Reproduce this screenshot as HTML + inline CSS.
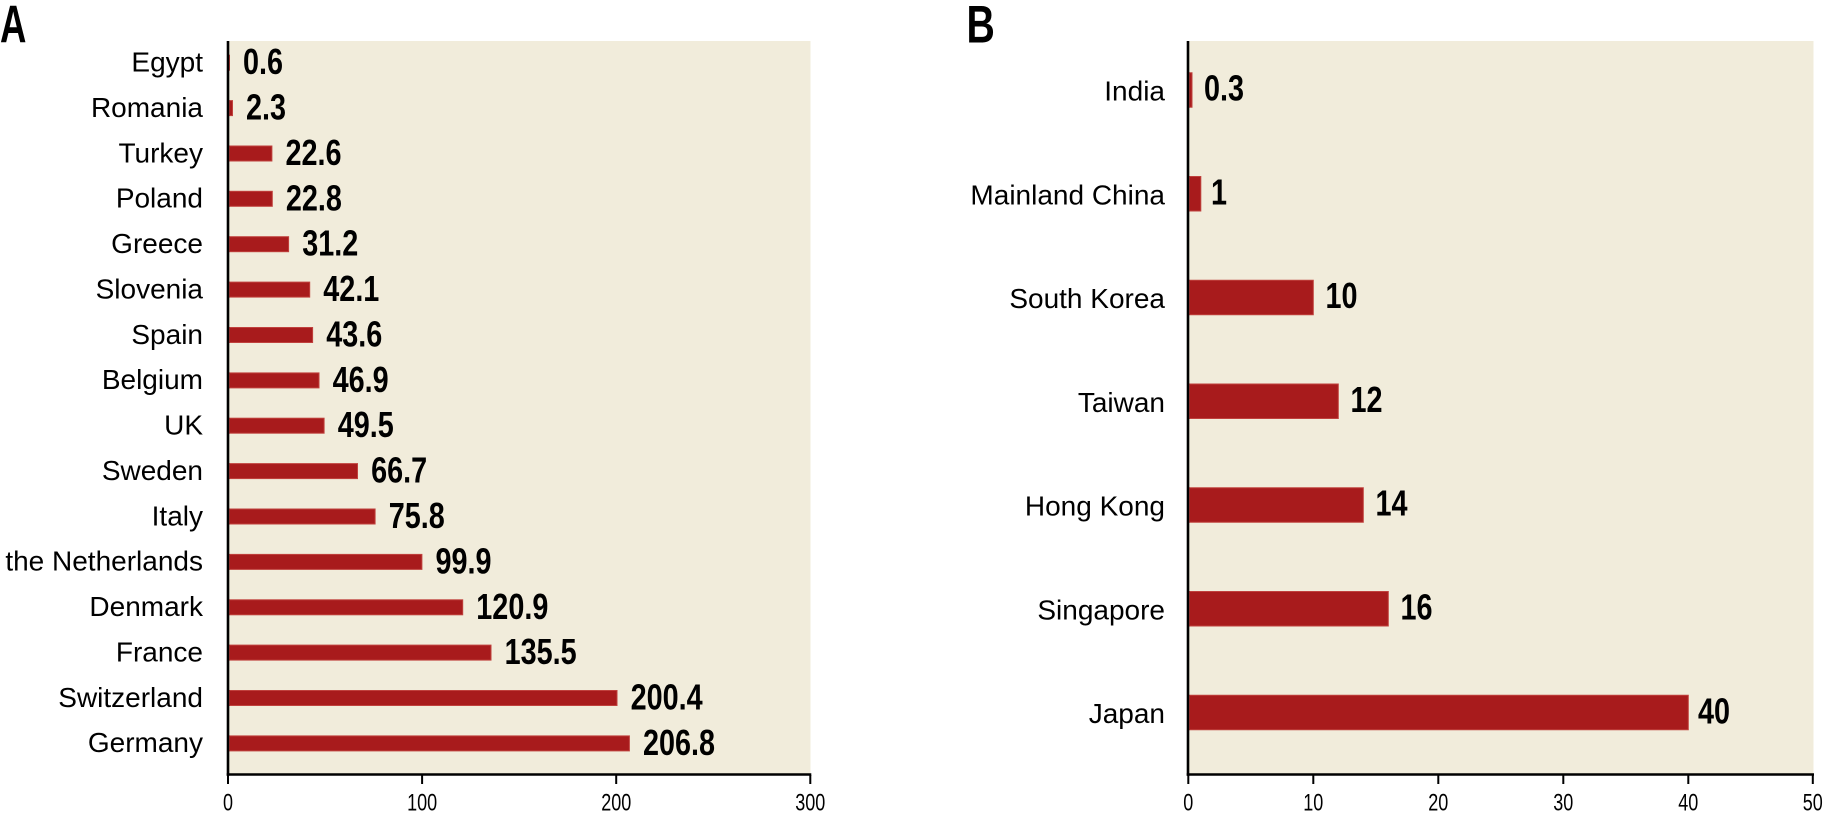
<!DOCTYPE html>
<html><head><meta charset="utf-8"><style>
html,body{margin:0;padding:0;background:#fff;}
svg{display:block;}
text{font-family:"Liberation Sans",sans-serif;fill:#000;}
.cat{font-size:28px;text-anchor:end;}
.val{font-size:36px;font-weight:bold;}
.tick{font-size:24px;text-anchor:middle;}
.ttl{font-size:53px;font-weight:bold;}
.bar{fill:#a81b1c;stroke:#c0413d;stroke-width:1;}
</style></head><body>
<svg width="1824" height="817" viewBox="0 0 1824 817" xmlns="http://www.w3.org/2000/svg">
<!-- Panel A -->
<rect x="229" y="41" width="581.5" height="732.5" fill="#f1ecdb"/>
<text class="ttl" transform="translate(0 42.5) scale(0.69 1)">A</text>
<g>
<rect class="bar" x="229" y="55.2" width="0.5" height="15"/>
<rect class="bar" x="229.5" y="100.6" width="3" height="15"/>
<rect class="bar" x="229.5" y="146" width="42.4" height="15"/>
<rect class="bar" x="229.5" y="191.3" width="42.8" height="15"/>
<rect class="bar" x="229.5" y="236.7" width="59.1" height="15"/>
<rect class="bar" x="229.5" y="282.1" width="80.2" height="15"/>
<rect class="bar" x="229.5" y="327.5" width="83.1" height="15"/>
<rect class="bar" x="229.5" y="372.9" width="89.5" height="15"/>
<rect class="bar" x="229.5" y="418.2" width="94.6" height="15"/>
<rect class="bar" x="229.5" y="463.6" width="128" height="15"/>
<rect class="bar" x="229.5" y="509" width="145.6" height="15"/>
<rect class="bar" x="229.5" y="554.4" width="192.4" height="15"/>
<rect class="bar" x="229.5" y="599.8" width="233.2" height="15"/>
<rect class="bar" x="229.5" y="645.1" width="261.5" height="15"/>
<rect class="bar" x="229.5" y="690.5" width="387.5" height="15"/>
<rect class="bar" x="229.5" y="735.9" width="399.9" height="15"/>
</g>
<g>
<text class="cat" x="203" y="71.5">Egypt</text>
<text class="cat" x="203" y="116.9">Romania</text>
<text class="cat" x="203" y="162.3">Turkey</text>
<text class="cat" x="203" y="207.6">Poland</text>
<text class="cat" x="203" y="253">Greece</text>
<text class="cat" x="203" y="298.4">Slovenia</text>
<text class="cat" x="203" y="343.8">Spain</text>
<text class="cat" x="203" y="389.2">Belgium</text>
<text class="cat" x="203" y="434.5">UK</text>
<text class="cat" x="203" y="479.9">Sweden</text>
<text class="cat" x="203" y="525.3">Italy</text>
<text class="cat" x="203" y="570.7">the Netherlands</text>
<text class="cat" x="203" y="616.1">Denmark</text>
<text class="cat" x="203" y="661.4">France</text>
<text class="cat" x="203" y="706.8">Switzerland</text>
<text class="cat" x="203" y="752.2">Germany</text>
</g>
<g>
<text class="val" transform="translate(243 74.2) scale(0.8 1)">0.6</text>
<text class="val" transform="translate(246 119.6) scale(0.8 1)">2.3</text>
<text class="val" transform="translate(285.5 165) scale(0.8 1)">22.6</text>
<text class="val" transform="translate(285.9 210.3) scale(0.8 1)">22.8</text>
<text class="val" transform="translate(302.2 255.7) scale(0.8 1)">31.2</text>
<text class="val" transform="translate(323.3 301.1) scale(0.8 1)">42.1</text>
<text class="val" transform="translate(326.2 346.5) scale(0.8 1)">43.6</text>
<text class="val" transform="translate(332.6 391.9) scale(0.8 1)">46.9</text>
<text class="val" transform="translate(337.7 437.2) scale(0.8 1)">49.5</text>
<text class="val" transform="translate(371.1 482.6) scale(0.8 1)">66.7</text>
<text class="val" transform="translate(388.7 528) scale(0.8 1)">75.8</text>
<text class="val" transform="translate(435.5 573.4) scale(0.8 1)">99.9</text>
<text class="val" transform="translate(476.3 618.8) scale(0.8 1)">120.9</text>
<text class="val" transform="translate(504.6 664.1) scale(0.8 1)">135.5</text>
<text class="val" transform="translate(630.6 709.5) scale(0.8 1)">200.4</text>
<text class="val" transform="translate(643 754.9) scale(0.8 1)">206.8</text>
</g>
<line x1="228" y1="41" x2="228" y2="775.8" stroke="#000" stroke-width="2.6"/>
<line x1="226.7" y1="774.5" x2="811.3" y2="774.5" stroke="#000" stroke-width="2.6"/>
<g stroke="#000" stroke-width="2">
<line x1="228" y1="775" x2="228" y2="784"/>
<line x1="422.1" y1="775" x2="422.1" y2="784"/>
<line x1="616.2" y1="775" x2="616.2" y2="784"/>
<line x1="810.3" y1="775" x2="810.3" y2="784"/>
</g>
<text class="tick" transform="translate(228 810.5) scale(0.75 1)">0</text>
<text class="tick" transform="translate(422.1 810.5) scale(0.75 1)">100</text>
<text class="tick" transform="translate(616.2 810.5) scale(0.75 1)">200</text>
<text class="tick" transform="translate(810.3 810.5) scale(0.75 1)">300</text>

<!-- Panel B -->
<rect x="1189" y="41" width="624.5" height="732.5" fill="#f1ecdb"/>
<text class="ttl" transform="translate(966.5 42.3) scale(0.74 1)">B</text>
<g>
<rect class="bar" x="1189.5" y="72.75" width="2.5" height="34.5"/>
<rect class="bar" x="1189.5" y="176.5" width="11.3" height="34.5"/>
<rect class="bar" x="1189.5" y="280.25" width="123.8" height="34.5"/>
<rect class="bar" x="1189.5" y="384" width="148.8" height="34.5"/>
<rect class="bar" x="1189.5" y="487.75" width="173.8" height="34.5"/>
<rect class="bar" x="1189.5" y="591.5" width="198.8" height="34.5"/>
<rect class="bar" x="1189.5" y="695.25" width="498.8" height="34.5"/>
</g>
<g>
<text class="cat" x="1165" y="100.5">India</text>
<text class="cat" x="1165" y="204.25">Mainland China</text>
<text class="cat" x="1165" y="308">South Korea</text>
<text class="cat" x="1165" y="411.75">Taiwan</text>
<text class="cat" x="1165" y="515.5">Hong Kong</text>
<text class="cat" x="1165" y="619.25">Singapore</text>
<text class="cat" x="1165" y="723">Japan</text>
</g>
<g>
<text class="val" transform="translate(1204 100.5) scale(0.8 1)">0.3</text>
<text class="val" transform="translate(1211 204.25) scale(0.8 1)">1</text>
<text class="val" transform="translate(1325.5 308) scale(0.8 1)">10</text>
<text class="val" transform="translate(1350.5 411.75) scale(0.8 1)">12</text>
<text class="val" transform="translate(1375.5 515.5) scale(0.8 1)">14</text>
<text class="val" transform="translate(1400.5 619.25) scale(0.8 1)">16</text>
<text class="val" transform="translate(1698 723.3) scale(0.8 1)">40</text>
</g>
<line x1="1188" y1="41" x2="1188" y2="775.8" stroke="#000" stroke-width="2.6"/>
<line x1="1186.7" y1="774.5" x2="1814" y2="774.5" stroke="#000" stroke-width="2.6"/>
<g stroke="#000" stroke-width="2">
<line x1="1188.3" y1="775" x2="1188.3" y2="784"/>
<line x1="1313.3" y1="775" x2="1313.3" y2="784"/>
<line x1="1438.3" y1="775" x2="1438.3" y2="784"/>
<line x1="1563.3" y1="775" x2="1563.3" y2="784"/>
<line x1="1688.3" y1="775" x2="1688.3" y2="784"/>
<line x1="1812.8" y1="775" x2="1812.8" y2="784"/>
</g>
<text class="tick" transform="translate(1188.3 810.5) scale(0.75 1)">0</text>
<text class="tick" transform="translate(1313.3 810.5) scale(0.75 1)">10</text>
<text class="tick" transform="translate(1438.3 810.5) scale(0.75 1)">20</text>
<text class="tick" transform="translate(1563.3 810.5) scale(0.75 1)">30</text>
<text class="tick" transform="translate(1688.3 810.5) scale(0.75 1)">40</text>
<text class="tick" transform="translate(1812.8 810.5) scale(0.75 1)">50</text>
</svg>
</body></html>
